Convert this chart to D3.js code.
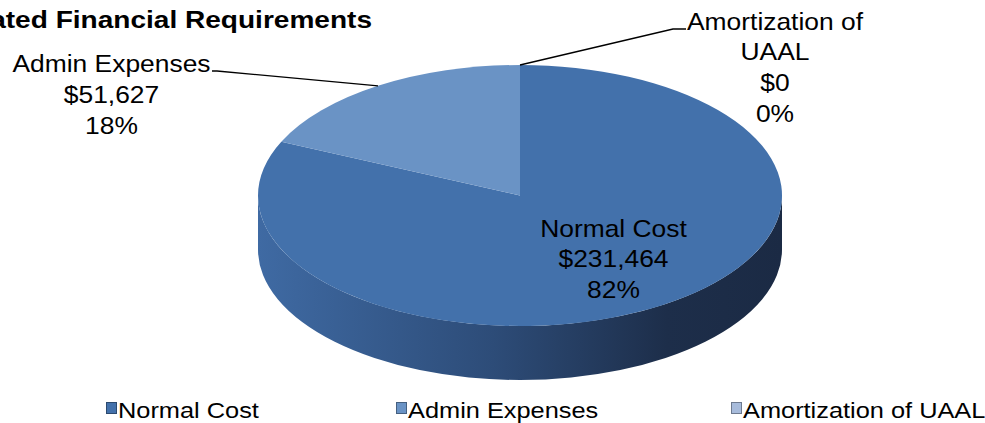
<!DOCTYPE html>
<html>
<head>
<meta charset="utf-8">
<script src="https://cdn.jsdelivr.net/npm/d3@7/dist/d3.min.js"></script>
<style>
  html, body { margin: 0; padding: 0; background: #fff; }
  svg { display: block; font-family: "Liberation Sans", Arial, sans-serif; }
</style>
</head>
<body>
<div id="chart"></div>
<script>
const categories = ["Normal Cost", "Admin Expenses", "Amortization of UAAL"];
const values = [231464, 51627, 0];
const labelLines = [["Normal Cost"], ["Admin Expenses"], ["Amortization of", "UAAL"]];
const colors = ["#4371ab", "#6a93c5", "#a7bbdb"];
const titleText = "Estimated Financial Requirements";

const width = 985, height = 423;
const cx = 520, cy = 195.5, rx = 262, ry = 130.5, depth = 54;
const sx = 1.1; // the picture is stretched horizontally

const svg = d3.select("#chart").append("svg")
  .attr("width", width).attr("height", height);

const defs = svg.append("defs");
const sideGrad = defs.append("linearGradient")
  .attr("id", "side0").attr("x1", 0).attr("x2", 1).attr("y1", 0).attr("y2", 0);
[["0%", "#3f6aa3"], ["45%", "#2d4c78"], ["78%", "#1d2e4a"], ["100%", "#1b2a44"]]
  .forEach(([o, c]) => sideGrad.append("stop").attr("offset", o).attr("stop-color", c));

const total = d3.sum(values);
const pct = d3.format(".0%");
const money = d3.format("$,");

const arcs = d3.pie().sort(null).value((d) => d)(values);

const pt = (a, dy = 0) => [cx + rx * Math.sin(a), cy - ry * Math.cos(a) + dy];

// side wall (front half only)
const sideG = svg.append("g");
arcs.forEach((d, i) => {
  const a0 = Math.max(d.startAngle, Math.PI / 2);
  const a1 = Math.min(d.endAngle, Math.PI * 1.5);
  if (a1 <= a0) return;
  const p0 = pt(a0), p1 = pt(a1), q1 = pt(a1, depth), q0 = pt(a0, depth);
  const path = `M${p0}A${rx},${ry} 0 0 1 ${p1}L${q1}A${rx},${ry} 0 0 0 ${q0}Z`;
  sideG.append("path").attr("d", path).attr("fill", i === 0 ? "url(#side0)" : d3.color(colors[i]).darker(1));
});

// top face
const topG = svg.append("g");
arcs.forEach((d, i) => {
  if (d.endAngle - d.startAngle <= 0) return;
  const p0 = pt(d.startAngle), p1 = pt(d.endAngle);
  const large = d.endAngle - d.startAngle > Math.PI ? 1 : 0;
  topG.append("path")
    .attr("d", `M${cx},${cy}L${p0}A${rx},${ry} 0 ${large} 1 ${p1}Z`)
    .attr("fill", colors[i]);
});

// data labels
const labelPos = [
  { x: 613.5, y: 236.5, leader: null },
  { x: 111.5, y: 72, leader: { elbow: [217, 71], end: [212, 71] } },
  { x: 775, y: 29.5, leader: { elbow: [673, 29], end: [686, 29] } }
];

const leaderG = svg.append("g");
const labelG = svg.append("g");
arcs.forEach((d, i) => {
  const lp = labelPos[i];
  const lines = [...labelLines[i], money(values[i]), pct(values[i] / total)];
  if (lp.leader) {
    const mid = (d.startAngle + d.endAngle) / 2;
    const anchor = pt(mid);
    leaderG.append("polyline")
      .attr("points", [anchor, lp.leader.elbow, lp.leader.end].map((p) => p.join(",")).join(" "))
      .attr("fill", "none").attr("stroke", "#000").attr("stroke-width", 1.3);
  }
  const t = labelG.append("text")
    .attr("transform", `translate(${lp.x},${lp.y}) scale(${sx},1)`)
    .attr("text-anchor", "middle")
    .attr("font-size", 24).attr("fill", "#000");
  lines.forEach((s, k) => t.append("tspan").attr("x", 0).attr("y", k * 31).text(s));
});

// title (cut off at left edge, as in the source)
svg.append("text")
  .attr("transform", `translate(372,28) scale(1.22,1)`)
  .attr("text-anchor", "end")
  .attr("font-size", 23).attr("font-weight", "bold")
  .text(titleText);

// legend
const legendX = [106, 396, 731];
const legend = svg.append("g").selectAll("g").data(categories).join("g")
  .attr("transform", (d, i) => `translate(${legendX[i]},402)`);
legend.append("rect")
  .attr("x", 0.5).attr("y", 0.5).attr("width", 10).attr("height", 11)
  .attr("fill", (d, i) => colors[i])
  .attr("stroke", (d, i) => d3.color(colors[i]).darker(1.2)).attr("stroke-width", 1);
legend.append("text")
  .attr("transform", `translate(12,15.5) scale(1.18,1)`)
  .attr("font-size", 21.5)
  .text((d) => d);
</script>
</body>
</html>
